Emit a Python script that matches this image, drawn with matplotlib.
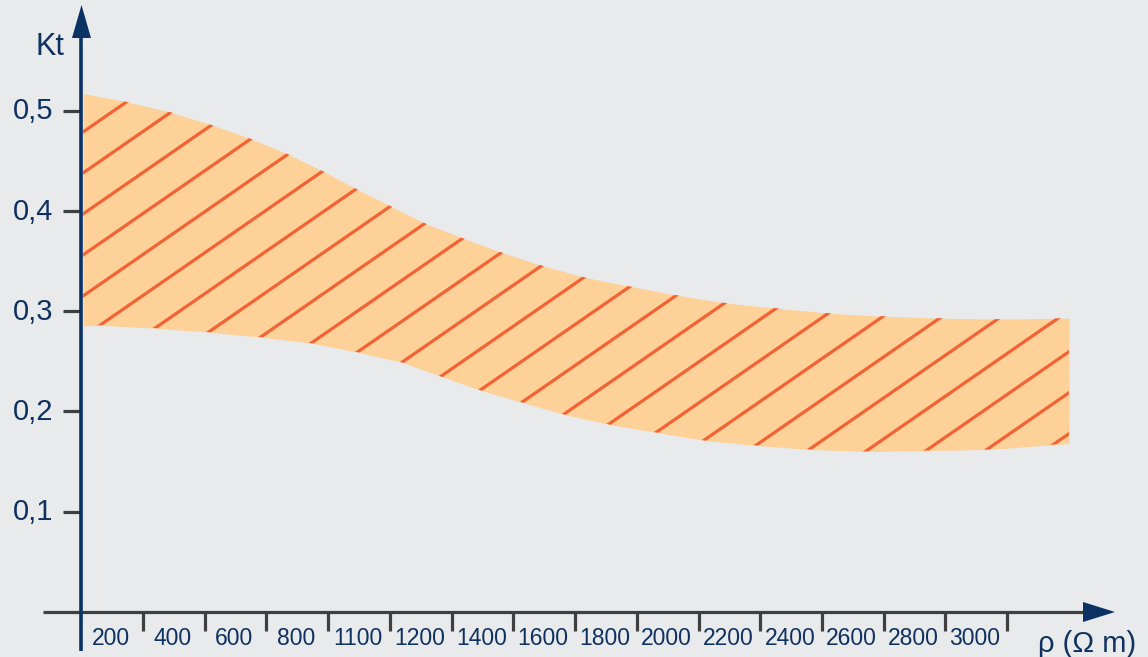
import matplotlib
matplotlib.use("Agg")
import matplotlib.pyplot as plt
import numpy as np

# ---- data ----
x_labels = ["200", "400", "600", "800", "1100", "1200", "1400", "1600", "1800",
            "2000", "2200", "2400", "2600", "2800", "3000"]
y_ticks = [0.1, 0.2, 0.3, 0.4, 0.5]
y_tick_labels = ["0,1", "0,2", "0,3", "0,4", "0,5"]

# band position along the category axis (index units, 1 unit = one label interval)
upper_x = [0.05, 0.73, 1.43, 2.11, 2.72, 3.35, 3.92, 4.47, 5.02, 5.57, 6.19, 6.80,
           7.45, 8.15, 8.88, 9.65, 10.47, 11.27, 12.12, 12.96, 13.90, 14.87, 16.02]
upper_y = [0.517, 0.509, 0.499, 0.486, 0.473, 0.457, 0.440, 0.422, 0.405, 0.388, 0.373, 0.359,
           0.346, 0.334, 0.325, 0.316, 0.308, 0.303, 0.298, 0.295, 0.293, 0.292, 0.293]
lower_x = [0.05, 0.32, 1.22, 2.09, 2.94, 3.75, 4.50, 5.21, 5.84, 6.49, 7.16, 7.84,
           8.57, 9.34, 10.12, 10.97, 11.84, 12.75, 13.72, 14.73, 15.78, 16.02]
lower_y = [0.285, 0.286, 0.283, 0.279, 0.274, 0.268, 0.259, 0.249, 0.235, 0.221, 0.209, 0.197,
           0.187, 0.179, 0.171, 0.166, 0.162, 0.160, 0.161, 0.162, 0.167, 0.168]

# ---- style ----
BG = "#e8eaec"
FILL = "#fdd198"
HATCH = "#f26235"
NAVY = "#0b3264"
TEXT = "#0e315f"
GRAY = "#3f3f3f"
FONT = ["Liberation Sans", "DejaVu Sans"]

# pixel <-> data helpers (layout only)
X0, DX = 80.0, 61.73
Y0, DY = 612.0, 1003.0
def px_x(p):
    return (p - X0) / DX
def px_y(p):
    return (Y0 - p) / DY

fig = plt.figure(figsize=(11.48, 6.57), dpi=100, facecolor=BG)
ax = fig.add_axes([0, 0, 1, 1])
ax.set_facecolor(BG)
ax.set_xlim(px_x(0), px_x(1148))
ax.set_ylim(px_y(657), px_y(0))
ax.axis("off")

# band
grid_x = np.union1d(upper_x, lower_x)
up = np.interp(grid_x, upper_x, upper_y)
lo = np.interp(grid_x, lower_x, lower_y)
band = ax.fill_between(grid_x, lo, up, color=FILL, linewidth=0, zorder=1)
clip_path = band.get_paths()[0]

# hatch lines clipped to band
slope = 0.692
spacing = 41.0
xs_px = np.array([75.0, 1080.0])
for k in range(-5, 40):
    ys_px = 132.0 - slope * (xs_px - 83.0) + spacing * k
    ln, = ax.plot(px_x(xs_px), px_y(ys_px), color=HATCH, lw=2.3,
                  solid_capstyle="butt", zorder=2)
    ln.set_clip_path(clip_path, ax.transData)

# x axis
ax.plot([px_x(43), px_x(1085)], [0, 0], color=GRAY, lw=2.3, zorder=3,
        solid_capstyle="butt")
ax.fill([px_x(1083), px_x(1083), px_x(1115)], [px_y(602), px_y(622), px_y(612)],
        color=NAVY, lw=0, zorder=4)
for i in range(1, len(x_labels) + 1):
    ax.plot([i + 0.02, i + 0.02], [0, px_y(631)], color=GRAY, lw=2.3, zorder=3,
            solid_capstyle="butt")
for i, lab in enumerate(x_labels):
    ax.text(i + 0.5, px_y(645), lab, ha="center", va="baseline", fontsize=16.5,
            color=TEXT, family=FONT, zorder=5)
ax.text(px_x(1038), px_y(652), "ρ (Ω m)", ha="left", va="baseline", fontsize=21,
        color=TEXT, family=FONT, zorder=5)

# y axis
ax.plot([px_x(81), px_x(81)], [px_y(651), px_y(36)], color=NAVY, lw=2.6, zorder=4,
        solid_capstyle="butt")
ax.fill([px_x(72), px_x(91), px_x(81.5)], [px_y(38), px_y(38), px_y(5)],
        color=NAVY, lw=0, zorder=4)
for v, lab in zip(y_ticks, y_tick_labels):
    ax.plot([px_x(63), px_x(80)], [v, v], color=GRAY, lw=2.3, zorder=3,
            solid_capstyle="butt")
    ax.text(px_x(53), v - 8.8 / DY, lab, ha="right", va="baseline", fontsize=21,
            color=TEXT, family=FONT, zorder=5)
ax.text(px_x(64), px_y(55), "Kt", ha="right", va="baseline", fontsize=22,
        color=TEXT, family=FONT, zorder=5)

fig.savefig("out.png", dpi=100, facecolor=BG)
